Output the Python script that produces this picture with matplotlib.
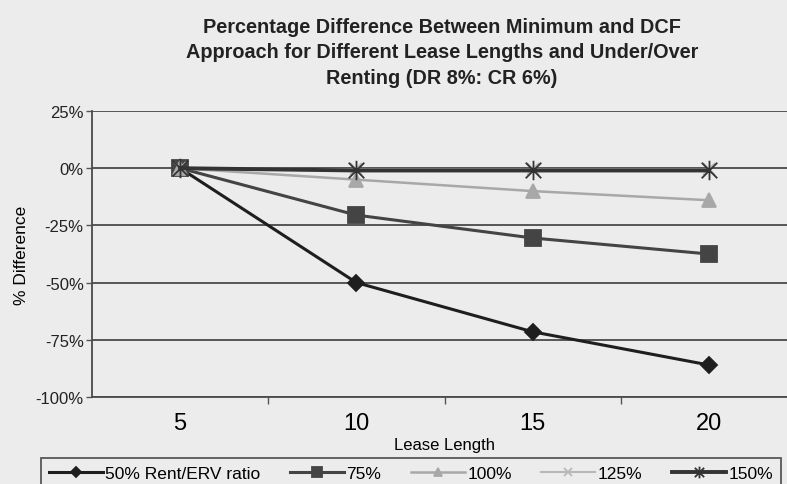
import numpy as np
import matplotlib
matplotlib.use('Agg')
from matplotlib import pyplot as plt
from matplotlib.path import Path
from matplotlib.ticker import FixedLocator, FuncFormatter

# lease lengths (years) and % difference for each Rent/ERV ratio
lease_length = ['5', '10', '15', '20']
diff_50 = [0, -50, -71.5, -86]
diff_75 = [0, -20.5, -30.5, -37.5]
diff_100 = [0, -5, -10, -14]
diff_125 = [0, -0.5, -0.5, -0.5]
diff_150 = [0, -1, -1, -1]
labels = ['50% Rent/ERV ratio', '75%', '100%', '125%', '150%']

plt.rcParams['font.family'] = ['Liberation Sans', 'DejaVu Sans']
bg = '#ececec'

# excel style star: an x with a vertical bar through it
star = Path([(0, -1), (0, 1), (-0.8, -0.8), (0.8, 0.8), (-0.8, 0.8), (0.8, -0.8)],
            [Path.MOVETO, Path.LINETO] * 3)

fig = plt.figure(figsize=(7.87, 4.85), dpi=100, facecolor=bg)
ax = fig.add_axes([92/787, 87/485, 705/787, 286/485], facecolor=bg)

x = np.arange(len(lease_length))
series = [
    (diff_50, '#1e1e1e', 'D', 8.5, 2.2),
    (diff_75, '#444444', 's', 11, 2.2),
    (diff_100, '#a8a8a8', '^', 10, 1.8),
    (diff_125, '#b8b8b8', 'x', 9, 1.5),
    (diff_150, '#333333', star, 14, 2.8),
]
for (vals, col, mk, ms, lw), lab in zip(series, labels):
    ax.plot(x, vals, color=col, marker=mk, markersize=ms, lw=lw, label=lab,
            markeredgecolor=col, markerfacecolor=col, markeredgewidth=1.3)

ax.set_xlim(-0.5, 3.5)
ax.set_ylim(-100, 25)
ax.set_yticks([25, 0, -25, -50, -75, -100])
ax.yaxis.set_major_formatter(FuncFormatter(lambda v, p: '%d%%' % v))
ax.yaxis.grid(True, color='#4a4a4a', lw=1.3)
ax.set_axisbelow(True)

ax.set_xticks(x)
ax.set_xticklabels(lease_length, fontsize=17)
ax.xaxis.set_minor_locator(FixedLocator([0.5, 1.5, 2.5]))
ax.tick_params(axis='x', which='major', length=0, pad=11)
ax.tick_params(axis='x', which='minor', length=5, width=1, color='#555555')
ax.tick_params(axis='y', length=4, width=1, color='#555555', labelsize=12, pad=2,
               labelcolor='#222222')

for s in ['top', 'right']:
    ax.spines[s].set_visible(False)
for s in ['left', 'bottom']:
    ax.spines[s].set_color('#4a4a4a')
    ax.spines[s].set_linewidth(1.3)

ax.set_xlabel('Lease Length', fontsize=12, labelpad=2)
ax.set_ylabel('% Difference', fontsize=12.5, labelpad=5)

fig.text(442/787, 1 - 53/485,
         'Percentage Difference Between Minimum and DCF\n'
         'Approach for Different Lease Lengths and Under/Over\n'
         'Renting (DR 8%: CR 6%)',
         ha='center', va='center', fontsize=14.3, fontweight='bold',
         linespacing=1.45, color='#222222')

leg = fig.legend(loc='upper left', bbox_to_anchor=(41/787, 1 - 459/485), ncol=5,
                 frameon=True, fancybox=False, fontsize=12.5, handlelength=3.1,
                 columnspacing=1.7, borderpad=0.45, handletextpad=0.15,
                 borderaxespad=0, markerscale=0.6)
leg.get_frame().set_edgecolor('#333333')
leg.get_frame().set_facecolor(bg)
leg.get_frame().set_linewidth(1.3)

fig.savefig('out.png', dpi=100, facecolor=bg)
